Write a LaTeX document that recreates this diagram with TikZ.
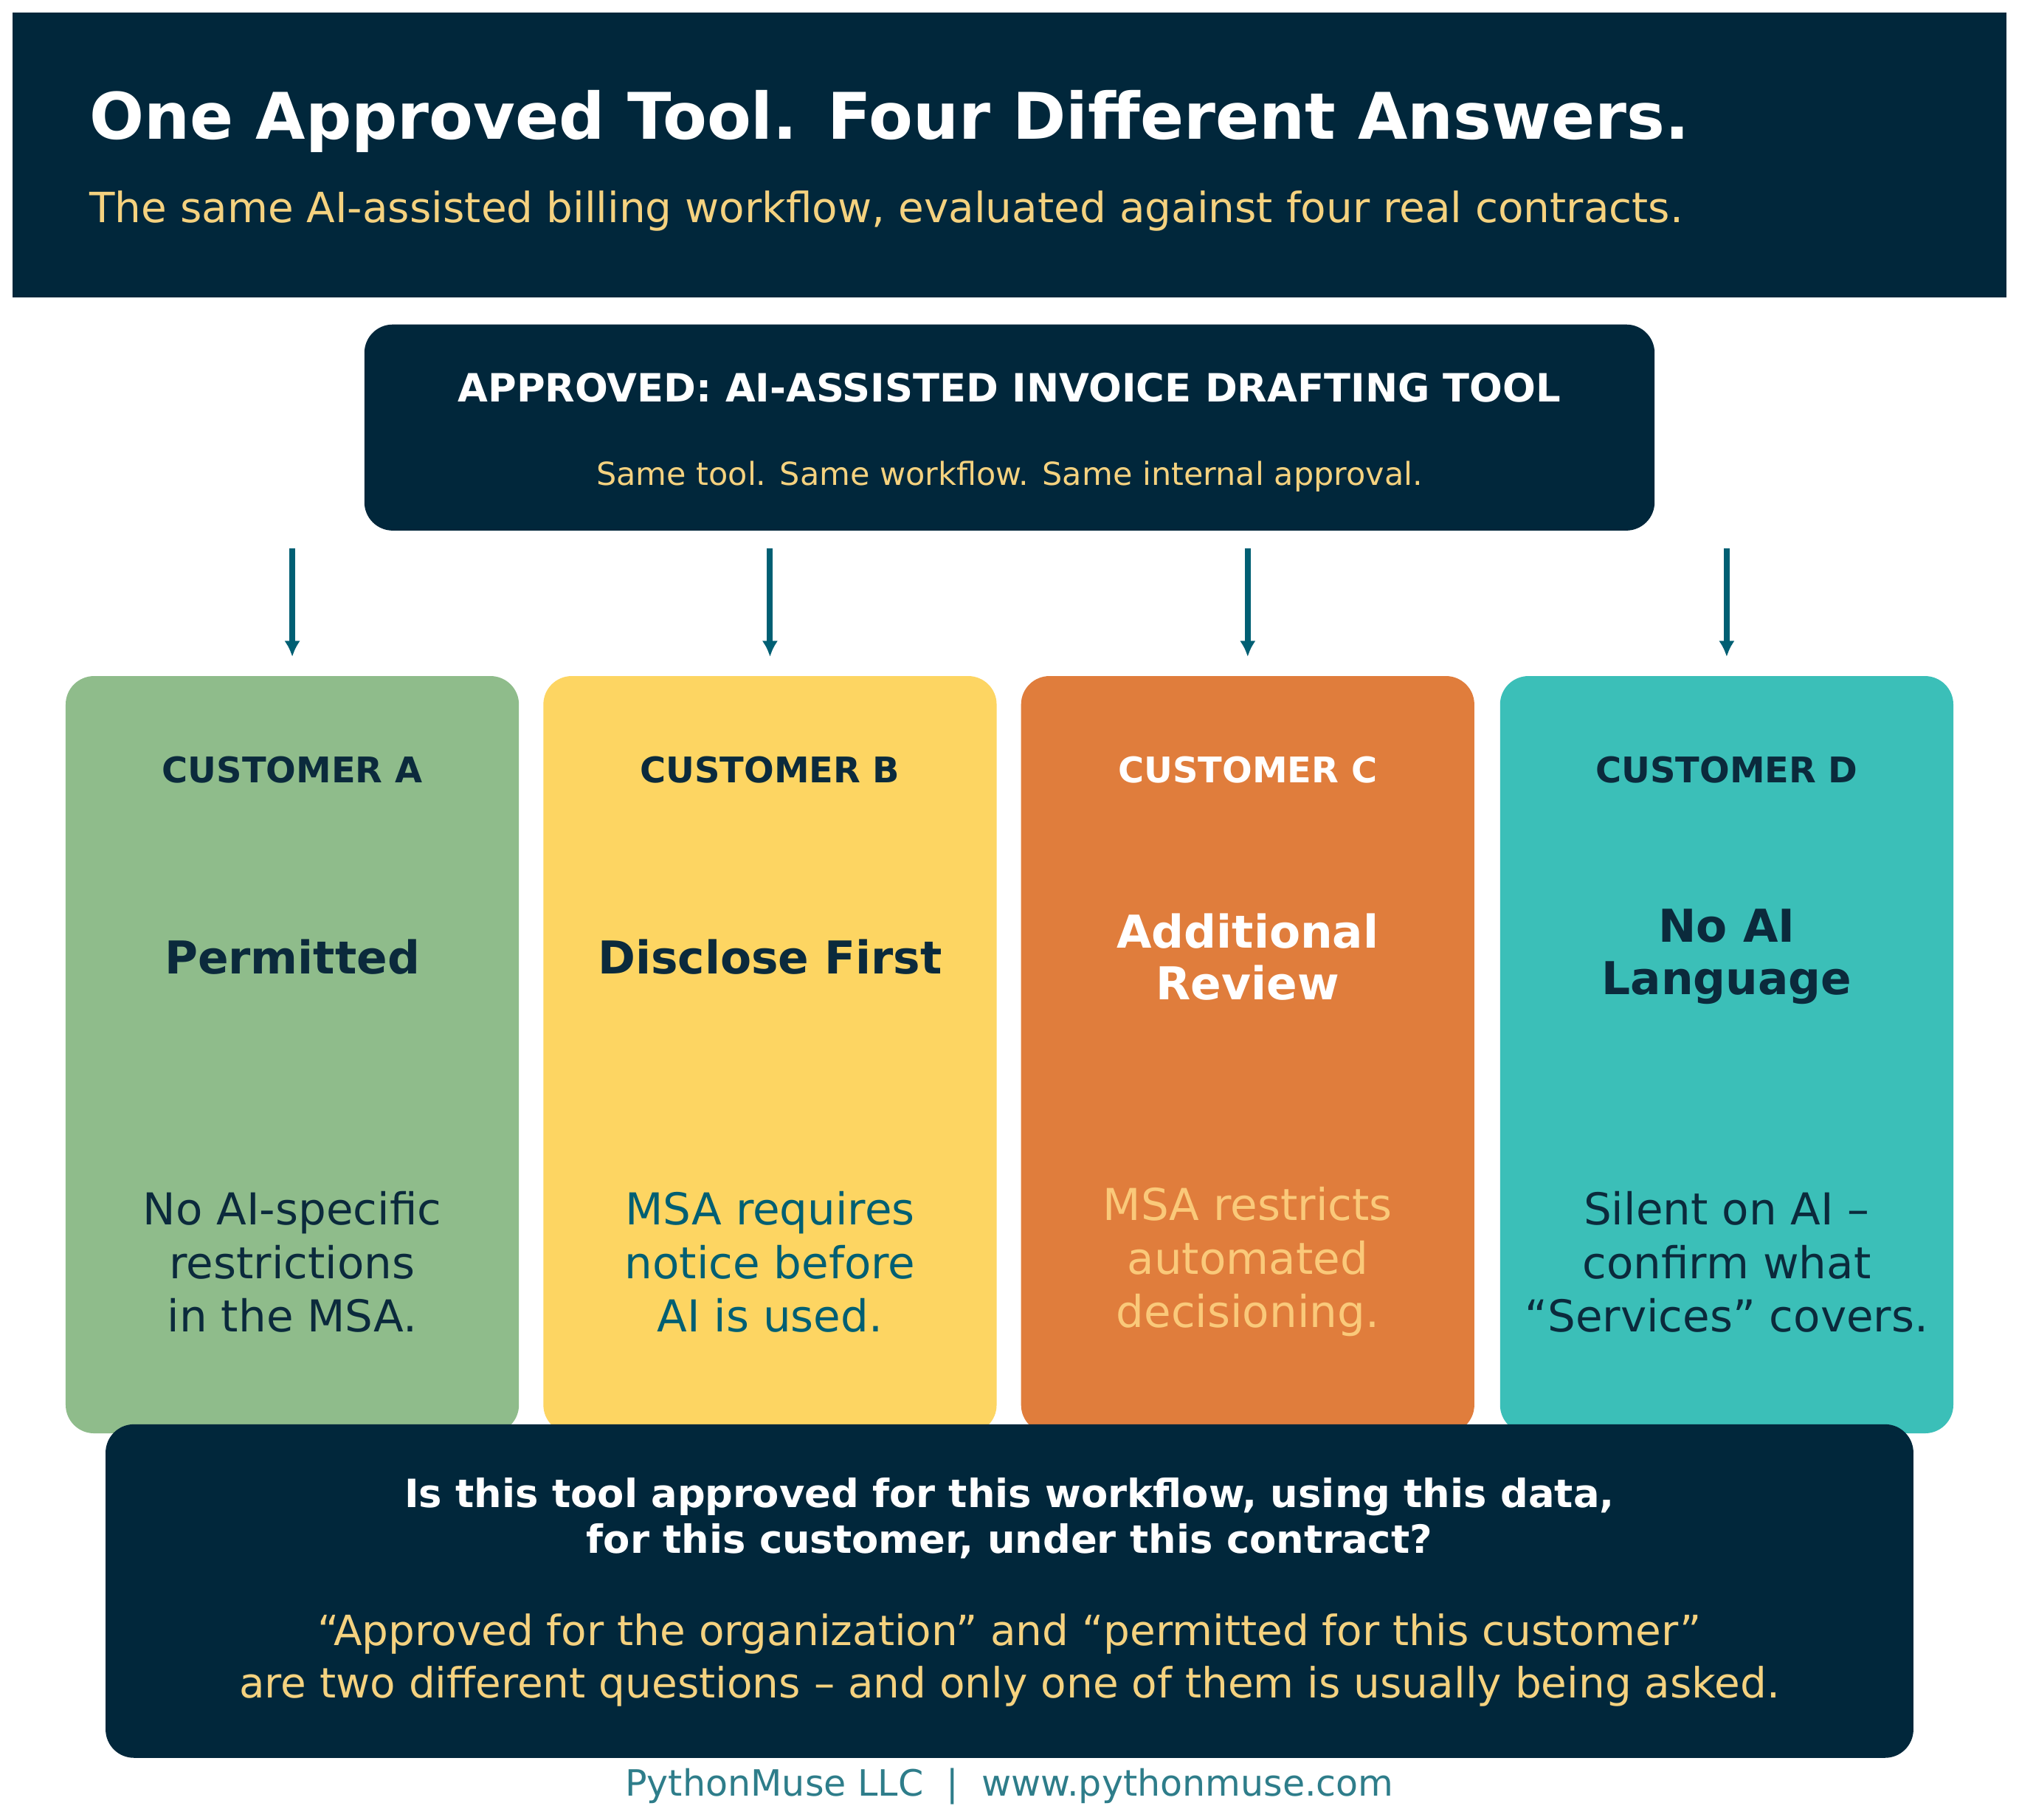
\documentclass[tikz,border=0pt]{standalone}
\usepackage{fontspec}
\setmainfont{DejaVu Sans}
\definecolor{navy}{HTML}{01273B}
\definecolor{gold}{HTML}{F5D27F}
\definecolor{cg}{HTML}{8FBC8B}
\definecolor{cy}{HTML}{FDD562}
\definecolor{co}{HTML}{E07D3C}
\definecolor{ct}{HTML}{3BBFB8}
\definecolor{ink}{HTML}{0B2A3C}
\definecolor{tealtx}{HTML}{005F73}
\definecolor{otx}{HTML}{FAC97A}
\definecolor{foot}{HTML}{2E7D8A}
\begin{document}
\begin{tikzpicture}[x=0.01cm,y=-0.01cm,
 card/.style={rounded corners=0.22cm},
 lab/.style={font=\fontsize{7.8}{9}\selectfont\bfseries},
 head/.style={font=\fontsize{10}{11.5}\selectfont\bfseries,align=center},
 body/.style={font=\fontsize{9.7}{11.8}\selectfont,align=center},
 arr/.style={-{Latex[length=3.5pt,width=3.5pt]},line width=1.3pt,draw=tealtx}]
\usetikzlibrary{arrows.meta}
\useasboundingbox (0,0) rectangle (1568,1413);
\fill[white] (0,0) rectangle (1568,1413);
\fill[navy] (10,10) rectangle (1558,231);
\node[anchor=base west,text=white,font=\fontsize{14.2}{16}\selectfont\bfseries] (title) at (57,108) {One Approved Tool. Four Different Answers.};
\node[anchor=base west,text=gold,font=\fontsize{9.2}{11}\selectfont] (sub) at (57,173) {The same AI-assisted billing workflow, evaluated against four real contracts.};
\fill[navy,card] (283,252) rectangle (1285,412);
\node[text=white,font=\fontsize{8.6}{10}\selectfont\bfseries] (tt) at (784,301) {APPROVED: AI-ASSISTED INVOICE DRAFTING TOOL};
\node[text=gold,font=\fontsize{7}{8.5}\selectfont] (ts) at (784,370) {Same tool. Same workflow. Same internal approval.};
\foreach \i/\x/\c in {a/227/cg,b/598/cy,c/969/co,d/1341/ct}{
 \coordinate (s\i) at (\x,426); \coordinate (e\i) at (\x,510);
 \draw[arr] (s\i) -- (e\i);
 \fill[\c,card] (\x-176,525) rectangle (\x+176,1113);
}
\node[lab,text=ink] at (227,598) {CUSTOMER A};
\node[lab,text=ink] at (598,598) {CUSTOMER B};
\node[lab,text=white] at (969,598) {CUSTOMER C};
\node[lab,text=ink] at (1341,598) {CUSTOMER D};
\node[head,text=ink] at (227,743) {Permitted};
\node[head,text=ink] at (598,743) {Disclose First};
\node[head,text=white] at (969,743) {Additional\\Review};
\node[head,text=ink] at (1341,743) {No AI\\Language};
\node[body,text=ink] at (227,980) {No AI-specific\\restrictions\\in the MSA.};
\node[body,text=tealtx] at (598,980) {MSA requires\\notice before\\AI is used.};
\node[body,text=otx] at (969,980) {MSA restricts\\automated\\decisioning.};
\node[body,text=ink] at (1341,980) {Silent on AI --\\confirm what\\“Services” covers.};
\fill[navy,card] (82,1106) rectangle (1486,1365);
\node[text=white,font=\fontsize{8.6}{10}\selectfont\bfseries,align=center] (q) at (784,1179) {Is this tool approved for this workflow, using this data,\\for this customer, under this contract?};
\node[text=gold,font=\fontsize{9.2}{11.6}\selectfont,align=center] (a) at (784,1289) {“Approved for the organization” and “permitted for this customer”\\are two different questions -- and only one of them is usually being asked.};
\node[text=foot,font=\fontsize{8}{9.5}\selectfont] (f) at (784,1387) {PythonMuse LLC \ | \ www.pythonmuse.com};
\end{tikzpicture}
\end{document}
